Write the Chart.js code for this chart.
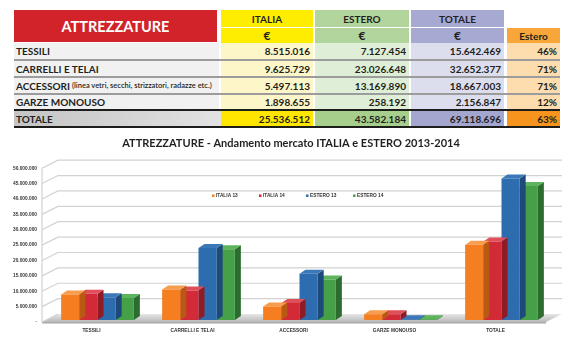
<!DOCTYPE html>
<html>
<head>
<meta charset="utf-8">
<script src="https://cdn.jsdelivr.net/npm/chart.js@4.4.0/dist/chart.umd.min.js"></script>
<style>
html, body { margin: 0; padding: 0; background: #fff; }
body { width: 571px; height: 342px; position: relative; overflow: hidden; font-family: Lato, 'Open Sans', sans-serif; color: #231f20; }
.c { position: absolute; box-sizing: border-box; font-weight: 700; font-size: 10px; white-space: nowrap; display: flex; align-items: center; }
.c.r { justify-content: flex-end; padding-right: 3px; }
.c.m { justify-content: center; }
.c.l { padding-left: 2px; }
.c small { font-size: 7.5px; font-weight: 600; margin-left: 2px; }
#chartBox { position: absolute; left: 0; top: 130px; width: 571px; height: 212px; }
</style>
</head>
<body>
<div id="tabella"></div>
<div id="chartBox"><canvas id="grafico" width="571" height="212"></canvas></div>
<script>
// Dati tabella
const rowLabels = ['TESSILI', 'CARRELLI E TELAI', 'ACCESSORI', 'GARZE MONOUSO'];
const rowNotes = ['', '', '(linea vetri, secchi, strizzatori, radazze etc.)', ''];
const italiaEuro = ['8.515.016', '9.625.729', '5.497.113', '1.898.655'];
const esteroEuro = ['7.127.454', '23.026.648', '13.169.890', '258.192'];
const totaleEuro = ['15.642.469', '32.652.377', '18.667.003', '2.156.847'];
const esteroPct = ['46%', '71%', '71%', '12%'];
const totaleRiga = ['TOTALE', '25.536.512', '43.582.184', '69.118.696', '63%'];

// Dati grafico
const categories = ['TESSILI', 'CARRELLI E TELAI', 'ACCESSORI', 'GARZE MONOUSO', 'TOTALE'];
const seriesNames = ['ITALIA 13', 'ITALIA 14', 'ESTERO 13', 'ESTERO 14'];
const italia13 = [8300000, 9900000, 4400000, 1850000, 24500000];
const italia14 = [8515016, 9625729, 5497113, 1898655, 25536512];
const estero13 = [7400000, 23400000, 15000000, 250000, 46000000];
const estero14 = [7127454, 23026648, 13169890, 258192, 43582184];
const yMax = 50000000;
const yStep = 5000000;

// Colori
const frontColors = ['#f47e20', '#d32a37', '#2d6cae', '#45a047'];
const topColors = ['#f89c4e', '#e04e5a', '#3a78b8', '#5cb45c'];
const sideColors = ['#b95a14', '#8f1b25', '#1d4a7a', '#2c6c2f'];

/** Costruisce la tabella in alto. */
function buildTable() {
    const box = document.getElementById('tabella');
    const cols = [[14, 217], [221, 313], [315, 409], [411, 504], [507, 560]];
    const rows = [[43, 59], [61, 76], [78, 93], [95, 109]];
    const rowBg = ['#f1f1f1', '#fdf6c8', '#dfeed6', '#dcdded', '#fddcae'];
    const totBg = ['linear-gradient(to right,#c4c4c4,#e2e2e2)', '#ffe600', '#a7cf8c', '#a3a6cf', '#f7941d'];
    const add = (x1, y1, x2, y2, bg, html, cls) => {
        const d = document.createElement('div');
        d.className = 'c ' + (cls || '');
        d.style.cssText = `left:${x1}px;top:${y1}px;width:${x2 - x1}px;height:${y2 - y1}px;background:${bg};`;
        d.innerHTML = html || '';
        box.appendChild(d);
        return d;
    };

    // intestazione
    const h = add(14, 10, 217, 42, '#d2232a', 'ATTREZZATURE', 'm');
    h.style.color = '#fff'; h.style.fontSize = '14.5px';
    add(221, 10, 313, 27, '#ffed00', 'ITALIA', 'm');
    add(315, 10, 409, 27, '#b2d59d', 'ESTERO', 'm');
    add(411, 10, 504, 27, '#a6a9d2', 'TOTALE', 'm');
    add(221, 28, 313, 43, '#ffed00', '€', 'm').style.fontSize = '12px';
    add(315, 28, 409, 43, '#b2d59d', '€', 'm').style.fontSize = '12px';
    add(411, 28, 504, 43, '#a6a9d2', '€', 'm').style.fontSize = '12px';
    add(507, 28, 560, 43, '#f8a53a', 'Estero', 'm');

    rows.forEach(([y1, y2], i) => {
        const note = rowNotes[i] ? `<small>${rowNotes[i]}</small>` : '';
        add(cols[0][0], y1, cols[0][1] + 2, y2, rowBg[0], rowLabels[i] + note, 'l');
        add(cols[1][0], y1, cols[1][1], y2, rowBg[1], italiaEuro[i], 'r');
        add(cols[2][0], y1, cols[2][1], y2, rowBg[2], esteroEuro[i], 'r');
        add(cols[3][0], y1, cols[3][1], y2, rowBg[3], totaleEuro[i], 'r');
        add(cols[4][0], y1, cols[4][1], y2, rowBg[4], esteroPct[i], 'r');
        if (i < rows.length - 1) add(14, y2, 560, rows[i + 1][0], '#9c9c9c');
    });

    // riga totale
    add(14, 109, 560, 111, '#1d1d1b');
    cols.forEach(([x1, x2], i) => add(x1, 111, i === 0 ? x2 + 4 : x2, 126, totBg[i], totaleRiga[i], i === 0 ? 'l' : 'r'));
    add(14, 126, 560, 128, '#1d1d1b');
}

const formatTick = v => v === 0 ? '-' : String(v).replace(/\B(?=(\d{3})+(?!\d))/g, '.');

const DX = 6, DY = -4;   // profondità barre
const WX = 16, WY = -8;  // profondità pareti
const smallFont = '"Liberation Sans", Arial, sans-serif';

// Disegna pavimento, griglia in prospettiva, facce laterali e legenda
const effetto3d = {
    id: 'effetto3d',
    beforeDatasetsDraw(chart) {
        const { ctx, chartArea: a, scales: { y } } = chart;
        const ax = a.left - 5;
        const base = y.getPixelForValue(0) + 2;
        ctx.save();
        const g = ctx.createLinearGradient(0, base + WY, 0, base);
        g.addColorStop(0, '#e6e6e6');
        g.addColorStop(1, '#b9b9b9');
        ctx.fillStyle = g;
        ctx.beginPath();
        ctx.moveTo(ax, base);
        ctx.lineTo(a.right - 6, base);
        ctx.lineTo(a.right - 6 + WX, base + WY);
        ctx.lineTo(ax + WX, base + WY);
        ctx.closePath();
        ctx.fill();
        ctx.fillStyle = '#a8a8a8';
        ctx.fillRect(ax, base, a.right - 6 - ax, 1.5);

        ctx.strokeStyle = '#d2d2d2';
        ctx.lineWidth = 1.2;
        y.ticks.forEach(t => {
            const py = y.getPixelForValue(t.value) + 2;
            ctx.beginPath();
            ctx.moveTo(ax, py);
            ctx.lineTo(ax + WX, py + WY);
            if (t.value !== 0) ctx.lineTo(a.right + 10, py + WY);
            ctx.stroke();
        });
        ctx.beginPath();
        ctx.moveTo(ax, y.getPixelForValue(y.max) + 2);
        ctx.lineTo(ax, base);
        ctx.stroke();
        ctx.restore();
    },
    beforeDatasetDraw(chart, args) {
        const ctx = chart.ctx;
        const i = args.index;
        ctx.save();
        args.meta.data.forEach(bar => {
            const { x, y, base, width } = bar.getProps(['x', 'y', 'base', 'width'], true);
            const l = x - width / 2, r = x + width / 2;
            ctx.fillStyle = sideColors[i];
            ctx.beginPath();
            ctx.moveTo(r, y); ctx.lineTo(r + DX, y + DY); ctx.lineTo(r + DX, base + DY); ctx.lineTo(r, base);
            ctx.closePath(); ctx.fill();
            ctx.fillStyle = topColors[i];
            ctx.beginPath();
            ctx.moveTo(l, y); ctx.lineTo(l + DX, y + DY); ctx.lineTo(r + DX, y + DY); ctx.lineTo(r, y);
            ctx.closePath(); ctx.fill();
        });
        ctx.restore();
    },
    afterDatasetsDraw(chart) {
        const { ctx, chartArea: a, scales: { y } } = chart;
        const ly = y.getPixelForValue(40000000) - 1;
        ctx.save();
        ctx.font = `bold 4.8px ${smallFont}`;
        ctx.textBaseline = 'middle';
        chart.data.datasets.forEach((ds, i) => {
            const lx = a.left + 166 + i * 47;
            ctx.fillStyle = ds.backgroundColor;
            ctx.fillRect(lx - 1, ly - 1.5, 2.5, 2.5);
            ctx.fillStyle = '#333';
            ctx.fillText(ds.label, lx + 3, ly);
        });
        ctx.restore();
    }
};

function buildChart() {
    const series = [italia13, italia14, estero13, estero14];
    new Chart(document.getElementById('grafico'), {
        type: 'bar',
        data: {
            labels: categories,
            datasets: series.map((data, i) => ({
                label: seriesNames[i],
                data: data,
                backgroundColor: frontColors[i],
                borderWidth: 0,
                categoryPercentage: 0.72,
                barPercentage: 1.0
            }))
        },
        options: {
            responsive: false,
            animation: false,
            layout: { padding: { left: 11, right: 0, top: 0, bottom: 0 } },
            plugins: {
                legend: { display: false },
                tooltip: { enabled: false },
                title: {
                    display: true,
                    text: 'ATTREZZATURE - Andamento mercato ITALIA e ESTERO 2013-2014',
                    color: '#231f20',
                    font: { family: 'Lato', size: 11, weight: 'bold' },
                    padding: { top: 6.5, bottom: 16.5 }
                }
            },
            scales: {
                x: {
                    grid: { display: false },
                    border: { display: false },
                    ticks: {
                        color: '#333',
                        font: { family: smallFont, size: 4.8, weight: 'bold' },
                        padding: 0,
                        labelOffset: -6,
                        maxRotation: 0
                    },
                    afterFit: s => { s.height = 22; }
                },
                y: {
                    min: 0,
                    max: yMax,
                    grid: { display: false, drawTicks: false },
                    border: { display: false },
                    ticks: {
                        stepSize: yStep,
                        color: '#333',
                        font: { family: smallFont, size: 4.8, weight: 'bold' },
                        padding: 10,
                        labelOffset: 2,
                        callback: v => formatTick(v)
                    },
                    afterFit: s => { s.width = 36; }
                },
                // spazio vuoto a destra dell'area del grafico
                margineDx: {
                    type: 'linear',
                    position: 'right',
                    grid: { display: false },
                    border: { display: false },
                    ticks: { display: false },
                    afterFit: s => { s.width = 19; }
                }
            }
        },
        plugins: [effetto3d]
    });
}

buildTable();
buildChart();
</script>
</body>
</html>
